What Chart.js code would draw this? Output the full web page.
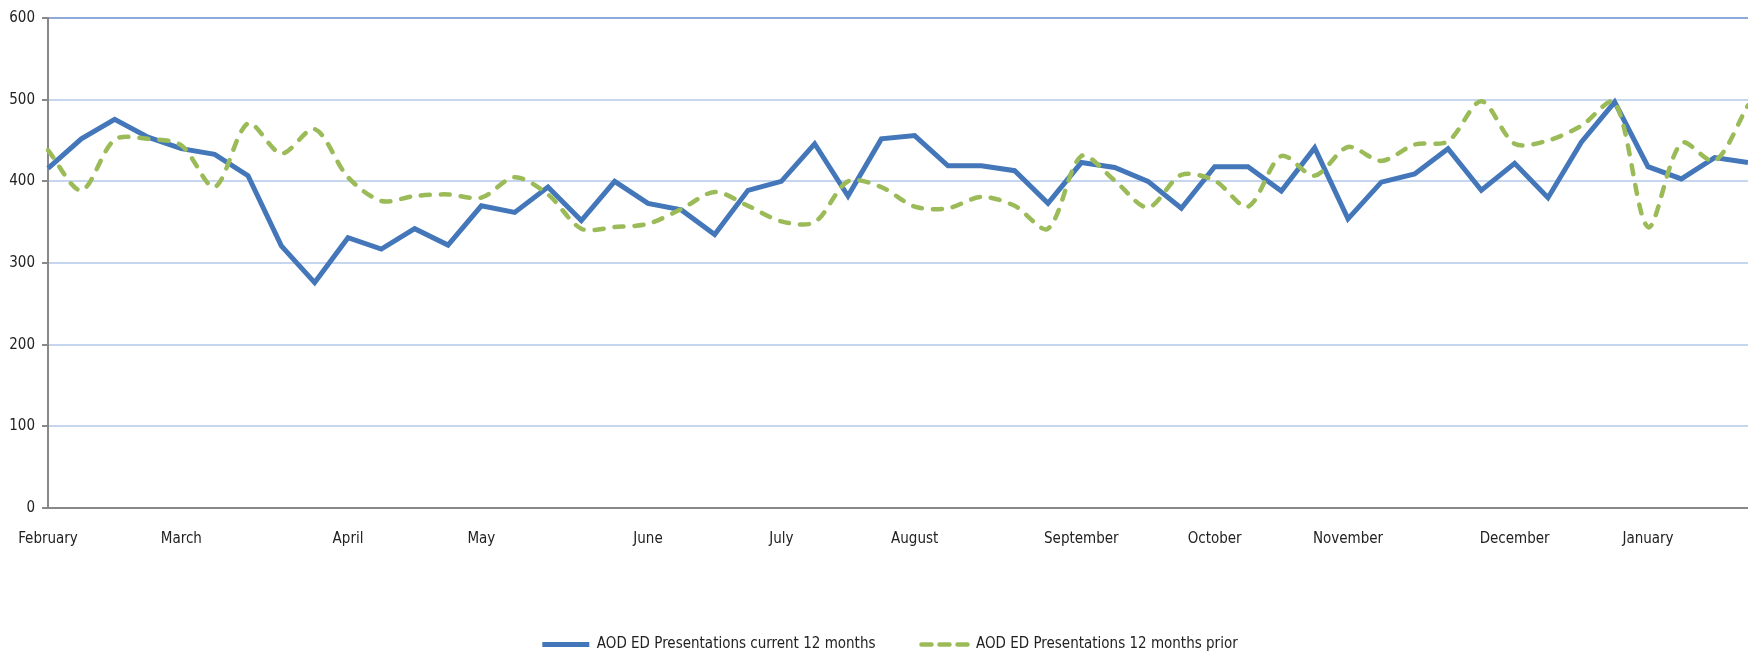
<!DOCTYPE html>
<html>
<head>
<meta charset="utf-8">
<script src="https://cdn.jsdelivr.net/npm/chart.js@4/dist/chart.umd.min.js"></script>
<style>
  html, body { margin: 0; padding: 0; background: #fff; }
  #wrap { width: 1748px; height: 654px; }
</style>
</head>
<body>
<div id="wrap"><canvas id="grafico"></canvas></div>
<script>
// semanas (52) - so o primeiro da semana de cada mes tem nome
const semanas = [
  'February', '', '', '',
  'March', '', '', '', '',
  'April', '', '', '',
  'May', '', '', '', '',
  'June', '', '', '',
  'July', '', '', '',
  'August', '', '', '', '',
  'September', '', '', '',
  'October', '', '', '',
  'November', '', '', '', '',
  'December', '', '', '',
  'January', '', '', ''
];

const atual12 = [
  416, 452, 476, 454, 440, 433, 407, 321, 276, 331,
  317, 342, 322, 370, 362, 393, 352, 400, 373, 365,
  335, 389, 400, 446, 382, 452, 456, 419, 419, 413,
  373, 423, 417, 400, 367, 418, 418, 388, 441, 354,
  399, 409, 440, 389, 422, 380, 448, 497, 418, 403,
  429, 423
];

const anterior12 = [
  438, 389, 451, 452, 444, 393, 471, 434, 464, 405,
  376, 382, 384, 380, 405, 384, 342, 344, 348, 366,
  387, 370, 351, 350, 400, 393, 369, 367, 381, 370,
  342, 431, 401, 368, 408, 401, 369, 431, 407, 442,
  425, 445, 449, 498, 446, 450, 468, 497, 344, 447,
  425, 493
];

const yTicks = [0, 100, 200, 300, 400, 500, 600];

const fonte = "'Liberation Sans Narrow', 'DejaVu Sans Condensed', 'Liberation Sans', sans-serif";

// a legenda do original fica um pouco a direita do centro
const deslocaLegenda = {
  id: 'deslocaLegenda',
  afterLayout(chart) {
    chart.legend.left += 16;
    chart.legend.right += 16;
  }
};

// amostras da legenda: linha cheia / tracejada como nas series
function itensLegenda(chart) {
  const itens = Chart.defaults.plugins.legend.labels.generateLabels(chart);
  return itens.map(item => {
    const ds = chart.data.datasets[item.datasetIndex];
    item.lineWidth = ds.borderWidth;
    item.strokeStyle = ds.borderColor;
    item.lineDash = ds.borderDash ? [10, 8] : [];
    item.lineCap = ds.borderDash ? 'round' : 'butt';
    return item;
  });
}

const ctx = document.getElementById('grafico').getContext('2d');
const myChart = new Chart(ctx, {
  type: 'line',
  data: {
    labels: semanas,
    datasets: [
      {
        label: 'AOD ED Presentations current 12 months',
        data: atual12,
        borderColor: '#4377B9',
        backgroundColor: '#4377B9',
        borderWidth: 5,
        pointRadius: 0,
        tension: 0,
        order: 1
      },
      {
        label: 'AOD ED Presentations 12 months prior',
        data: anterior12,
        borderColor: '#9BBB59',
        backgroundColor: '#9BBB59',
        borderWidth: 4.5,
        borderDash: [9, 11],
        borderCapStyle: 'round',
        pointRadius: 0,
        tension: 0.3,
        order: 0
      }
    ]
  },
  plugins: [deslocaLegenda],
  options: {
    responsive: true,
    maintainAspectRatio: false,
    animation: false,
    layout: { padding: { top: 18, left: 0, right: 0, bottom: -8 } },
    plugins: {
      tooltip: { enabled: false },
      legend: {
        position: 'bottom',
        labels: {
          font: { family: fonte, size: 15 },
          color: '#222',
          usePointStyle: true,
          pointStyle: 'line',
          pointStyleWidth: 47,
          boxHeight: 15,
          padding: 46,
          generateLabels: itensLegenda,
          sort: (a, b) => a.datasetIndex - b.datasetIndex
        }
      }
    },
    scales: {
      x: {
        // sem linhas verticais; o tickLength so empurra os rotulos pra baixo
        grid: { display: false, drawTicks: true, tickLength: 22 },
        border: { display: true, color: '#888', width: 2 },
        ticks: {
          autoSkip: false,
          maxRotation: 0,
          minRotation: 0,
          padding: 0,
          color: '#222',
          font: { family: fonte, size: 15 }
        },
        afterFit: (s) => { s.height = 83; }
      },
      y: {
        min: 0,
        max: 600,
        afterBuildTicks: (s) => { s.ticks = yTicks.map(v => ({ value: v })); },
        grid: {
          color: (c) => c.tick && c.tick.value === 600 ? '#8EAADB' : '#C6D6EE',
          lineWidth: 2,
          tickLength: 6,
          tickColor: '#888'
        },
        border: { display: true, color: '#888', width: 2 },
        ticks: {
          padding: 7,
          color: '#222',
          font: { family: fonte, size: 15 }
        },
        afterFit: (s) => { s.width = 48; }
      }
    }
  }
});
</script>
</body>
</html>
